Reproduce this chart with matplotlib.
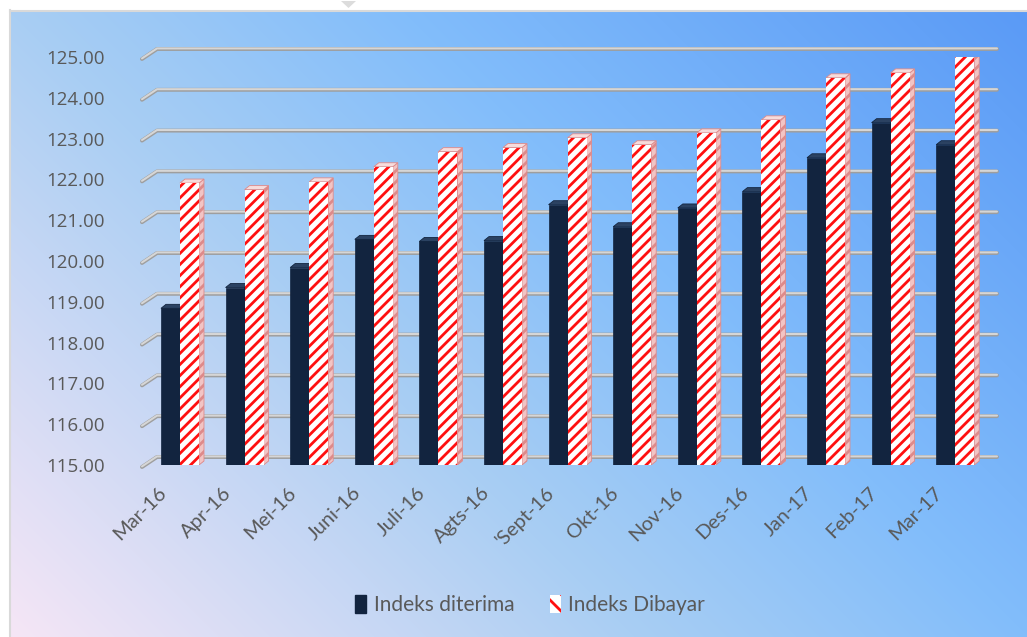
import numpy as np
import matplotlib
matplotlib.use("Agg")
import matplotlib.pyplot as plt
from matplotlib.patches import Polygon, Patch
from matplotlib.lines import Line2D
from matplotlib.transforms import ScaledTranslation

# ---- data ---------------------------------------------------------------
categories = ["Mar-16", "Apr-16", "Mei-16", "Juni-16", "Juli-16", "Agts-16",
              "'Sept-16", "Okt-16", "Nov-16", "Des-16", "Jan-17", "Feb-17", "Mar-17"]
indeks_diterima = [118.84, 119.35, 119.84, 120.53, 120.48, 120.50, 121.38,
                   120.84, 121.30, 121.70, 122.53, 123.39, 122.85]
indeks_dibayar = [121.91, 121.75, 121.94, 122.31, 122.68, 122.78, 123.02,
                  122.85, 123.14, 123.46, 124.49, 124.61, 125.00]
y_ticks = [115, 116, 117, 118, 119, 120, 121, 122, 123, 124, 125]
series_names = ["Indeks diterima", "Indeks Dibayar"]

# ---- styling ------------------------------------------------------------
NAVY = "#12243F"
NAVY_TOP = "#2B4262"
RED = "#FF1010"
TEXT = "#595959"
BASE = 115.0
W_PX, H_PX = 1027, 637

plt.rcParams["hatch.linewidth"] = 2.0
fig = plt.figure(figsize=(W_PX / 100, H_PX / 100), dpi=100)
fig.patch.set_facecolor("white")

# gradient panel (lavender bottom-left -> blue top-right)
bx0, by_top = 10, 11
bg = fig.add_axes([bx0 / W_PX, 0, 1 - bx0 / W_PX, 1 - by_top / H_PX], zorder=0)
gh, gw = H_PX - by_top, W_PX - bx0
yy, xx = np.mgrid[0:gh, 0:gw]
t = (xx + (gh - yy)) / (gw + gh)
stops = [0.0, 0.38, 0.62, 1.0]
cols = np.array([[0xF6, 0xE6, 0xF6], [0xA9, 0xCE, 0xF3],
                 [0x82, 0xBD, 0xFB], [0x5A, 0x9A, 0xF6]]) / 255
img = np.dstack([np.interp(t, stops, cols[:, c]) for c in range(3)])
bg.imshow(img, aspect="auto", extent=(0, 1, 0, 1), interpolation="bilinear")
bg.set_axis_off()

# thin frame edges and the small pointer at the top
fig.add_artist(Line2D([9.5 / W_PX, 9.5 / W_PX], [0, 1 - 10 / H_PX],
                      color="#D9D9D9", lw=1.5, transform=fig.transFigure))
fig.add_artist(Line2D([9.5 / W_PX, 1], [1 - 10.5 / H_PX, 1 - 10.5 / H_PX],
                      color="#D9D9D9", lw=1.5, transform=fig.transFigure))
fig.add_artist(Polygon([[341 / W_PX, 1 - 1 / H_PX], [356 / W_PX, 1 - 1 / H_PX],
                        [348.5 / W_PX, 1 - 8 / H_PX]], closed=True,
                       facecolor="#DCDCDC", edgecolor="none",
                       transform=fig.transFigure))

# ---- main axes ----------------------------------------------------------
ax = fig.add_axes([142 / W_PX, 1 - 465 / H_PX, (997 - 142) / W_PX, (465 - 57) / H_PX],
                  zorder=1)
ax.patch.set_alpha(0)
x_lo, x_hi = -0.588, 12.647
ax.set_xlim(x_lo, x_hi)
ax.set_ylim(BASE, 125)
for s in ax.spines.values():
    s.set_visible(False)

px_x = (x_hi - x_lo) / (997 - 142)        # data units per pixel (x)
px_y = 10.0 / (465 - 57)                  # data units per pixel (y)

# back-wall gridlines with the short slanted side-wall segment
x_wall = x_lo + 15 * px_x
for v in y_ticks:
    xs = [x_lo, x_wall, x_hi]
    ys = [v - 2 * px_y, v + 8 * px_y, v + 8 * px_y]
    ax.plot(xs, ys, color="#9E9E9E", lw=2.8, solid_capstyle="round",
            zorder=1, clip_on=False)
    ax.plot(xs, [y + 0.6 * px_y for y in ys], color="#D6D6D6", lw=1.5,
            solid_capstyle="round", zorder=1.1, clip_on=False)

# ---- 3-D columns --------------------------------------------------------
idx = np.arange(len(categories))
bw = 19 * px_x
dx, dy = 5 * px_x, 4 * px_y


def extrude(x0, v, side_fc, top_fc, edge, z, hatch=None):
    x1 = x0 + bw
    side = Polygon([[x1, BASE], [x1 + dx, BASE + dy], [x1 + dx, v + dy], [x1, v]],
                   closed=True, facecolor=side_fc, edgecolor=edge, lw=0.6, zorder=z,
                   hatch=hatch)
    top = Polygon([[x0, v], [x0 + dx, v + dy], [x1 + dx, v + dy], [x1, v]],
                  closed=True, facecolor=top_fc, edgecolor=edge, lw=0.6, zorder=z)
    ax.add_patch(side)
    ax.add_patch(top)


for i, (a, b) in enumerate(zip(indeks_diterima, indeks_dibayar)):
    extrude(i - bw, a, NAVY, NAVY_TOP, NAVY, 2)
    extrude(i, b, "#F2C4C4", "#F7DCDC", "#DE8A8A", 4, hatch="///")

ax.bar(idx - bw / 2, np.array(indeks_diterima) - BASE, bottom=BASE, width=bw,
       color=NAVY, edgecolor=NAVY, lw=0.5, zorder=3)
ax.bar(idx + bw / 2, np.array(indeks_dibayar) - BASE, bottom=BASE, width=bw,
       facecolor="white", edgecolor=RED, hatch="///", lw=0, zorder=5)

# ---- axis text ----------------------------------------------------------
ax.set_yticks(y_ticks)
ax.set_yticklabels([f"{v:.2f}" for v in y_ticks], color=TEXT, fontsize=13.5,
                   family=["Open Sans", "DejaVu Sans"])
ax.tick_params(axis="y", length=0, pad=27)
ax.set_xticks([])

lab_off = ax.transData + ScaledTranslation(-0.22, -0.19, fig.dpi_scale_trans)
narrow = ["Liberation Sans Narrow", "Lato", "DejaVu Sans"]
for i, c in enumerate(categories):
    ax.text(i, BASE, c, transform=lab_off, rotation=45, rotation_mode="anchor",
            ha="right", va="top", fontsize=14.5, color=TEXT, family=narrow)

handles = [Patch(facecolor=NAVY, edgecolor=NAVY),
           Patch(facecolor="white", edgecolor=RED, hatch="\\\\", lw=0)]
fig.legend(handles, series_names, loc="center",
           bbox_to_anchor=(530 / W_PX, 1 - 605 / H_PX), ncol=2, frameon=False,
           handlelength=0.55, handleheight=1.0, handletextpad=0.35,
           columnspacing=1.7, prop={"family": narrow, "size": 15},
           labelcolor=TEXT)

fig.savefig("out.png", dpi=100)
